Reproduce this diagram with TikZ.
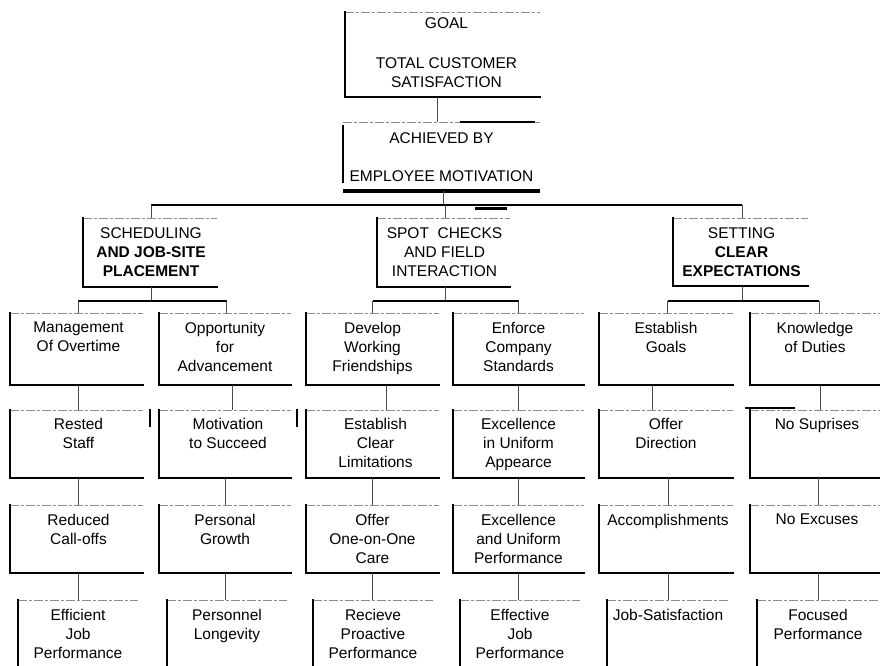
\documentclass[tikz,border=0pt]{standalone}
\usepackage{fontspec}
\setmainfont{Liberation Sans}
\usetikzlibrary{calc}
\begin{document}
\begin{tikzpicture}[x=1pt,y=-1pt,
  boxn/.style={draw=none,rectangle,inner sep=0pt,outer sep=0pt,anchor=north west},
  txt/.style={anchor=north,align=center,inner sep=0pt,font=\fontsize{15.5}{19}\selectfont},
  topln/.style={draw=black!45,line width=0.6pt,dash pattern=on 9pt off 2pt on 3pt off 2pt},
  sideln/.style={draw=black,line width=1.8pt,line cap=rect},
  conn/.style={draw=black!70,line width=0.7pt},
  busln/.style={draw=black,line width=2pt},
  tbus/.style={draw=black,line width=1.1pt},
  blot/.style={draw=black,line width=2pt}]
\newcommand{\obox}[7]{%
  \node[boxn,minimum width=#4pt,minimum height=#5pt] (#1) at (#2,#3) {};
  \draw[topln] (#1.north west) -- (#1.north east);
  \draw[sideln] (#1.north west) -- (#1.south west) -- (#1.south east);
  \node[txt] (#1t) at ([shift={(#6)}]#1.north) {#7};
}
\newcommand{\obot}[7]{%
  \node[boxn,minimum width=#4pt,minimum height=#5pt] (#1) at (#2,#3) {};
  \draw[topln] (#1.north west) -- (#1.north east);
  \draw[sideln] (#1.north west) -- (#1.south west);
  \node[txt] (#1t) at ([shift={(#6)}]#1.north) {#7};
}
\useasboundingbox (0,0) rectangle (880,666);

% top
\obox{goal}{345}{12}{195}{85}{4,5}{GOAL\\[21pt]TOTAL CUSTOMER\\SATISFACTION}
\node[boxn,minimum width=197pt,minimum height=69pt] (ach) at (343,122) {};
\draw[topln] (ach.north west) -- (ach.north east);
\draw[sideln] ([yshift=-4pt]ach.north west) -- ([yshift=9pt]ach.south west);
\draw[draw=black,line width=3.5pt] (ach.south west) -- (ach.south east);
\node[txt] (acht) at ([yshift=-10pt]ach.north) {ACHIEVED BY\\[19pt]EMPLOYEE MOTIVATION};
\draw[blot] ([xshift=117pt]ach.north west) -- ([xshift=192pt]ach.north west);

% level 1
\obox{sched}{83}{218}{134}{69}{1,9}{SCHEDULING\\{\bfseries AND JOB-SITE}\\{\bfseries PLACEMENT}}
\obox{spot}{377}{218}{133}{69}{1,9}{SPOT\ \ CHECKS\\AND FIELD\\INTERACTION}
\obox{sett}{673}{218}{135}{68}{1,9}{SETTING\\{\bfseries CLEAR}\\{\bfseries EXPECTATIONS}}

% row 1
\obox{a1}{10}{313}{133}{72}{2,9}{Management\\Of Overtime}
\obox{a2}{159}{313}{132}{72}{0,9}{Opportunity\\for\\Advancement}
\obox{a3}{306}{313}{133}{72}{0,9}{Develop\\Working\\Friendships}
\obox{a4}{453}{313}{131}{72}{0,9}{Enforce\\Company\\Standards}
\obox{a5}{599}{313}{134}{72}{0,9}{Establish\\Goals}
\obox{a6}{750}{313}{130}{72}{0,9}{Knowledge\\of Duties}

% row 2
\obox{b1}{10}{410}{133}{68}{2,8}{Rested\\Staff}
\obox{b2}{159}{410}{132}{68}{3,8}{Motivation\\to Succeed}
\obox{b3}{306}{410}{133}{68}{3,8}{Establish\\Clear\\Limitations}
\obox{b4}{453}{410}{131}{68}{0,8}{Excellence\\in Uniform\\Appearce}
\obox{b5}{599}{410}{134}{68}{0,8}{Offer\\Direction}
\obox{b6}{750}{410}{130}{68}{2,8}{No Suprises}

% row 3
\obox{c1}{10}{505}{133}{68}{2,9}{Reduced\\Call-offs}
\obox{c2}{159}{505}{132}{68}{0,9}{Personal\\Growth}
\obox{c3}{306}{505}{133}{68}{0,9}{Offer\\One-on-One\\Care}
\obox{c4}{453}{505}{131}{68}{0,9}{Excellence\\and Uniform\\Performance}
\obox{c5}{599}{505}{134}{68}{2,9}{Accomplishments}
\obox{c6}{750}{505}{130}{68}{2,9}{No Excuses}

% row 4
\obot{d1}{18}{600}{120}{66}{0,9}{Efficient\\Job\\Performance}
\obot{d2}{167}{600}{120}{66}{0,9}{Personnel\\Longevity}
\obot{d3}{313}{600}{120}{66}{0,9}{Recieve\\Proactive\\Performance}
\obot{d4}{460}{600}{120}{66}{0,9}{Effective\\Job\\Performance}
\obot{d5}{607}{600}{122}{66}{0,9}{Job-Satisfaction}
\obot{d6}{757}{600}{122}{66}{0,9}{Focused\\Performance}

% connectors top
\draw[conn] ([xshift=-5pt]goal.south) -- ([xshift=-5pt]goal.south |- ach.north);
\coordinate (tb) at (0,205);
\draw[conn] ([xshift=1.5pt]ach.south) -- ([xshift=1.5pt]ach.south |- tb);
\draw[tbus] ([xshift=1pt]sched.north |- tb) -- ([xshift=1.5pt]sett.north |- tb);
\draw[blot,line width=3pt] ([xshift=132pt,yshift=-3pt]ach.south west |- tb) -- ([xshift=164pt,yshift=-3pt]ach.south west |- tb);
\draw[conn] ([xshift=1pt]sched.north |- tb) -- ([xshift=1pt]sched.north);
\draw[conn] ([xshift=1.5pt]spot.north |- tb) -- ([xshift=1.5pt]spot.north);
\draw[conn] ([xshift=1.5pt]sett.north |- tb) -- ([xshift=1.5pt]sett.north);

% level 1 to row 1
\coordinate (mb) at (0,301);
\draw[conn] ([xshift=1pt]sched.south) -- ([xshift=1pt]sched.south |- mb);
\draw[busln] ([xshift=1.5pt]a1.north |- mb) -- ([xshift=1.5pt]a2.north |- mb);
\draw[conn] ([xshift=1.5pt]a1.north |- mb) -- ([xshift=1.5pt]a1.north);
\draw[conn] ([xshift=1.5pt]a2.north |- mb) -- ([xshift=1.5pt]a2.north);
\draw[conn] ([xshift=1.5pt]spot.south) -- ([xshift=1.5pt]spot.south |- mb);
\draw[busln] (a3.north |- mb) -- (a4.north |- mb);
\draw[conn] (a3.north |- mb) -- (a3.north);
\draw[conn] (a4.north |- mb) -- (a4.north);
\draw[conn] ([xshift=1.5pt]sett.south) -- ([xshift=1.5pt]sett.south |- mb);
\draw[busln] ([xshift=1.5pt]a5.north |- mb) -- ([xshift=4pt]a6.north |- mb);
\draw[conn] ([xshift=1.5pt]a5.north |- mb) -- ([xshift=1.5pt]a5.north);
\draw[conn] ([xshift=4pt]a6.north |- mb) -- ([xshift=4pt]a6.north);

% row 1 to row 2
\draw[conn] ([xshift=1.5pt]a1.south) -- ([xshift=1.5pt]a1.south |- b1.north);
\draw[conn] ([xshift=7.5pt]a2.south) -- ([xshift=7.5pt]a2.south |- b2.north);
\draw[conn] ([xshift=13.5pt]a3.south) -- ([xshift=13.5pt]a3.south |- b3.north);
\draw[conn] (a4.south) -- (b4.north);
\draw[conn] ([xshift=-14pt]a5.south) -- ([xshift=-14pt]a5.south |- b5.north);
\draw[conn] ([xshift=5pt]a6.south) -- ([xshift=5pt]a6.south |- b6.north);

% row 2 to row 3
\draw[conn] ([xshift=1.5pt]b1.south) -- ([xshift=1.5pt]b1.south |- c1.north);
\draw[conn] (b2.south) -- (c2.north);
\draw[conn] (b3.south) -- (c3.north);
\draw[conn] (b4.south) -- (c4.north);
\draw[conn] ([xshift=2pt]b5.south) -- ([xshift=2pt]b5.south |- c5.north);
\draw[conn] ([xshift=3pt]b6.south) -- ([xshift=3pt]b6.south |- c6.north);

% row 3 to row 4
\draw[conn] ([xshift=2pt]c1.south) -- ([xshift=2pt]c1.south |- d1.north);
\draw[conn] (c2.south) -- (c2.south |- d2.north);
\draw[conn] (c3.south) -- (c3.south |- d3.north);
\draw[conn] (c4.south) -- (c4.south |- d4.north);
\draw[conn] ([xshift=2pt]c5.south) -- ([xshift=2pt]c5.south |- d5.north);
\draw[conn] ([xshift=3pt]c6.south) -- ([xshift=3pt]c6.south |- d6.north);

% scan blots
\draw[blot] ([xshift=-9pt,yshift=1pt]b2.north west) -- ([xshift=-9pt,yshift=-17pt]b2.north west);
\draw[blot] ([xshift=-9pt,yshift=1pt]b3.north west) -- ([xshift=-9pt,yshift=-17pt]b3.north west);
\draw[blot] ([xshift=-5pt,yshift=2pt]b6.north west) -- ([xshift=45pt,yshift=2pt]b6.north west);
\end{tikzpicture}
\end{document}
